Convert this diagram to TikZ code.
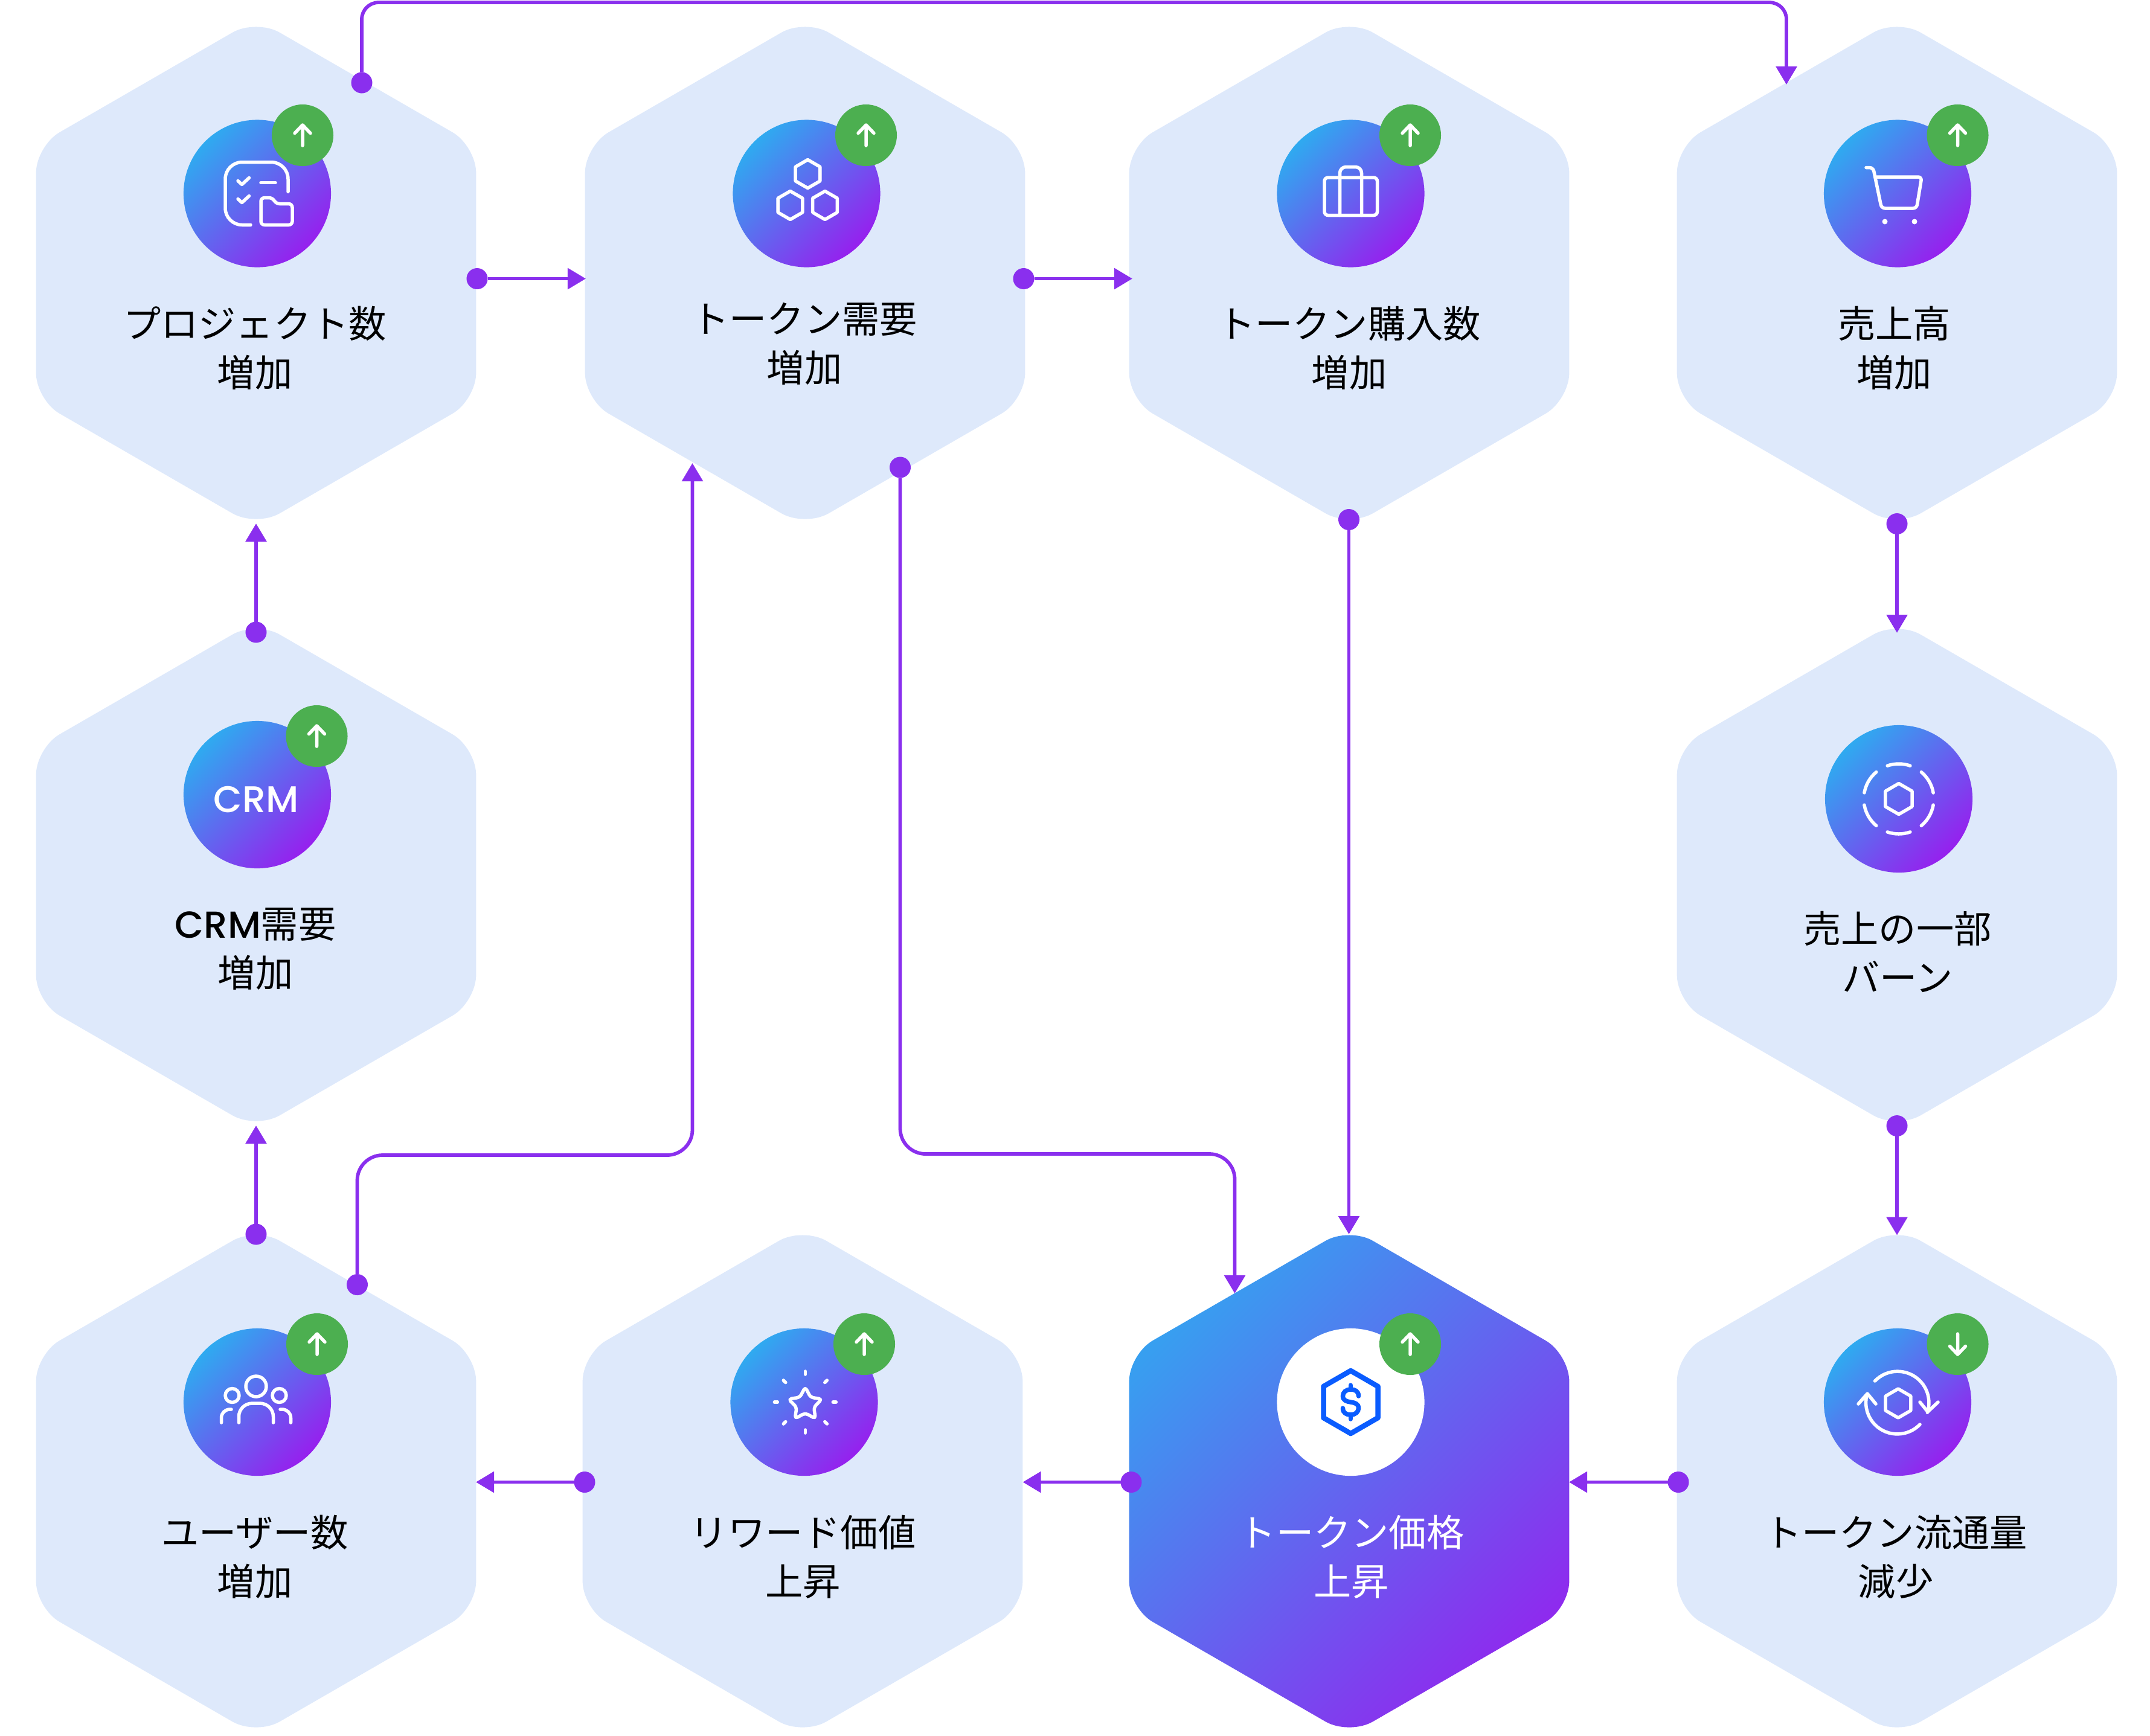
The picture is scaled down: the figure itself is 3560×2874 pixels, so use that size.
\documentclass[tikz,border=0pt]{standalone}
\usepackage{fontspec}
\setmainfont{Noto Sans CJK JP}
\newfontfamily\crmfont{Poppins Medium}
\usetikzlibrary{arrows.meta, shapes.geometric}
\definecolor{hexblue}{RGB}{222,233,251}
\definecolor{flowpurple}{RGB}{138,47,238}
\definecolor{badgegreen}{RGB}{76,175,80}
\definecolor{gradstart}{RGB}{47,170,240}
\definecolor{gradend}{RGB}{150,32,238}
\definecolor{dollarblue}{RGB}{10,92,255}
\tikzstyle{hexbox}=[regular polygon, regular polygon sides=6, shape border rotate=30, minimum size=8.41cm, inner sep=0, outer sep=0, rounded corners=0.45cm, fill=hexblue]
\tikzstyle{hexmain}=[hexbox, fill=none, top color=gradstart!92!gradend, bottom color=gradend!92!gradstart, shading angle=45]
\tikzstyle{iconball}=[circle, minimum size=2.44cm, inner sep=0, outer sep=0, top color=gradstart, bottom color=gradend, shading angle=45]
\tikzstyle{iconballwhite}=[circle, minimum size=2.44cm, inner sep=0, outer sep=0, fill=white]
\tikzstyle{badge}=[circle, minimum size=1.02cm, inner sep=0, outer sep=0, fill=badgegreen]
\tikzstyle{dot}=[circle, minimum size=0.35cm, inner sep=0, outer sep=0, fill=flowpurple]
\tikzstyle{flow}=[draw=flowpurple, line width=0.058cm, rounded corners=0.42cm, -{Triangle[length=0.3cm,width=0.34cm]}]
\tikzstyle{hexlabel}=[align=center, inner sep=0, font=\fontsize{17.7}{23}\selectfont]
\tikzstyle{iconline}=[draw=white, line width=0.055cm, line cap=round, line join=round]
\tikzstyle{iconhex}=[regular polygon, regular polygon sides=6, shape border rotate=30, inner sep=0, outer sep=0, draw=white, line width=0.055cm, line join=round]
\begin{document}
\begin{tikzpicture}[x=0.01cm, y=-0.01cm]
\useasboundingbox (0,0) rectangle (3560,2874);

\node[hexbox] (project) at (424,452) {};
\node[hexbox] (demand) at (1333,452) {};
\node[hexbox] (purchase) at (2234,452) {};
\node[hexbox] (sales) at (3141,452) {};
\node[hexbox] (crm) at (424,1449) {};
\node[hexbox] (burn) at (3141,1449) {};
\node[hexbox] (users) at (424,2453) {};
\node[hexbox] (reward) at (1329,2453) {};
\node[hexmain] (price) at (2234,2453) {};
\node[hexbox] (supply) at (3141,2453) {};

\node[iconball] (projectball) at (426,320.5) {};
\node[iconball] (demandball) at (1335.5,320.5) {};
\node[iconball] (purchaseball) at (2236.5,320.5) {};
\node[iconball] (salesball) at (3142,320.5) {};
\node[iconball] (crmball) at (426,1316) {};
\node[iconball] (burnball) at (3144,1323) {};
\node[iconball] (usersball) at (426,2322) {};
\node[iconball] (rewardball) at (1331.5,2322) {};
\node[iconballwhite] (priceball) at (2236.5,2322) {};
\node[iconball] (supplyball) at (3142,2322) {};

\node[badge] (projectbadge) at (501,224) {};
\node[badge] (demandbadge) at (1434,224) {};
\node[badge] (purchasebadge) at (2335,224) {};
\node[badge] (salesbadge) at (3241.5,224) {};
\node[badge] (crmbadge) at (524.5,1219) {};
\node[badge] (usersbadge) at (525,2226) {};
\node[badge] (rewardbadge) at (1431,2226) {};
\node[badge] (pricebadge) at (2335,2226) {};
\node[badge] (supplybadge) at (3241.5,2226) {};

\foreach \x/\y in {501/224, 1434/224, 2335/224, 3241.5/224, 524.5/1219, 525/2226, 1431/2226, 2335/2226}
{
	\draw[iconline] (\x,\y+17) -- (\x,\y-17) (\x-13,\y-3.5) -- (\x,\y-17) -- (\x+13,\y-3.5);
}
\draw[iconline] (3241.5,2209) -- (3241.5,2243) (3228.5,2229.5) -- (3241.5,2243) -- (3254.5,2229.5);

\begin{scope}[shift={(426,320.5)}]
\draw[iconline, rounded corners=0.28cm] (51,-3) -- (51,-52) -- (-53,-52) -- (-53,52) -- (-11,52);
\draw[iconline] (-32,-21) -- (-25.5,-15) -- (-13.5,-26);
\draw[iconline] (-32,9) -- (-25.5,15) -- (-13.5,4);
\draw[iconline] (6,-18) -- (30,-18);
\draw[iconline, rounded corners=0.06cm] (6,7) -- (25.5,7) -- (31,17) -- (58,17) -- (58,52) -- (6,52) -- cycle;
\end{scope}

\node[iconhex, minimum size=0.47cm] (stacktop) at (1337.5,288) {};
\node[iconhex, minimum size=0.47cm] (stackleft) at (1308.5,340) {};
\node[iconhex, minimum size=0.47cm] (stackright) at (1366,340) {};

\begin{scope}[shift={(2236.5,320.5)}]
\draw[iconline, rounded corners=0.06cm] (-43.5,-26.5) rectangle (44,36);
\draw[iconline, rounded corners=0.1cm] (-18,36) -- (-18,-44) -- (18,-44) -- (18,36);
\end{scope}

\begin{scope}[shift={(3142,320.5)}]
\draw[iconline, rounded corners=0.06cm] (-52,-43) -- (-40.5,-43) -- (-26.5,24.5) -- (31.5,24.5) -- (40,-27.5) -- (-37,-27.5);
\fill[white] (-21,46.5) circle (4.5) (28,46.5) circle (4.5);
\end{scope}

\node[text=white, inner sep=0, font=\crmfont\fontsize{17.5}{20}\selectfont] (crmmark) at (424,1324) {CRM};

\node[iconhex, minimum size=0.51cm] (burnhex) at (3144,1323) {};
\foreach \a/\b in {71/109, 10/50, -50/-10, -109/-71, 130/170, 190/230}
{
	\draw[iconline] (3144,1323) ++(-\a:58) arc[start angle=-\a, end angle=-\b, radius=58];
}

\begin{scope}[shift={(426,2322)}]
\draw[iconline] (-2,-26) circle (17);
\draw[iconline] (-41.5,-11) circle (11.5);
\draw[iconline] (36.5,-11) circle (11.5);
\draw[iconline, rounded corners=0.22cm] (-30.5,34) -- (-30.5,2) -- (26.5,2) -- (26.5,34);
\draw[iconline, rounded corners=0.14cm] (-59.5,34) -- (-59.5,12) -- (-43,12);
\draw[iconline, rounded corners=0.14cm] (55.5,34) -- (55.5,12) -- (38,12);
\end{scope}

\begin{scope}[shift={(1333.3,2322)}]
\foreach \a in {0,45,...,315}
{
	\draw[iconline] (\a:46) -- (\a:51);
}
\draw[iconline, rounded corners=0.05cm] (0,-25) -- (8.8,-8) -- (27.6,-5) -- (14.3,8.6) -- (17,27.5) -- (0,18) -- (-17,27.5) -- (-14.3,8.6) -- (-27.6,-5) -- (-8.8,-8) -- cycle;
\end{scope}

\begin{scope}[shift={(2236.5,2322)}]
\draw[draw=dollarblue, line width=0.085cm, line join=round] (0,-52) -- (45,-26) -- (45,26) -- (0,52) -- (-45,26) -- (-45,-26) -- cycle;
\draw[draw=dollarblue, line width=0.075cm, line cap=round] (13,-10) .. controls (13,-18) and (7,-21) .. (0,-21) .. controls (-8,-21) and (-13,-16) .. (-13,-10) .. controls (-13,-3) and (-7,-1) .. (0,0) .. controls (7,1) and (13,3) .. (13,10) .. controls (13,16) and (8,21) .. (0,21) .. controls (-7,21) and (-13,18) .. (-13,10);
\draw[draw=dollarblue, line width=0.075cm, line cap=round] (0,-28) -- (0,-21) (0,21) -- (0,28);
\end{scope}

\begin{scope}[shift={(3142,2323)}]
\node[iconhex, minimum size=0.48cm] (supplyhex) at (1,1) {};
\draw[iconline] (-37.5,-36) arc[start angle=-136, end angle=18, radius=52];
\draw[iconline] (37,-1) -- (50,15) -- (67,-1);
\draw[iconline] (37,36) arc[start angle=44, end angle=196, radius=52];
\draw[iconline] (-65,2) -- (-50,-15) -- (-36,2);
\end{scope}

\node[hexlabel] (projecttext) at (422,576) {プロジェクト数\\増加};
\node[hexlabel] (demandtext) at (1332,569) {トークン需要\\増加};
\node[hexlabel] (purchasetext) at (2234,576) {トークン購入数\\増加};
\node[hexlabel] (salestext) at (3136.5,576) {売上高\\増加};
\node[hexlabel] (crmtext) at (423,1572) {{\crmfont CRM}需要\\増加};
\node[hexlabel] (burntext) at (3142,1576) {売上の一部\\バーン};
\node[hexlabel] (userstext) at (422,2578) {ユーザー数\\増加};
\node[hexlabel] (rewardtext) at (1329.5,2578) {リワード価値\\上昇};
\node[hexlabel, text=white] (pricetext) at (2237.5,2578) {トークン価格\\上昇};
\node[hexlabel] (supplytext) at (3139,2578) {トークン流通量\\減少};

\node[dot] (projectup) at (599,137) {};
\node[dot] (projectright) at (790,461.5) {};
\node[dot] (demandright) at (1695,461.5) {};
\node[dot] (demanddown) at (1490.5,774) {};
\node[dot] (purchasedown) at (2233.5,860.5) {};
\node[dot] (salesdown) at (3141,867.5) {};
\node[dot] (burndown) at (3141,1864.5) {};
\node[dot] (supplyleft) at (2779,2454.5) {};
\node[dot] (priceleft) at (1873,2454.5) {};
\node[dot] (rewardleft) at (968,2454.5) {};
\node[dot] (usersup) at (424,2044) {};
\node[dot] (usersdiag) at (591.5,2127.5) {};
\node[dot] (crmup) at (424,1047) {};

\coordinate (toptrack) at (1700,4);
\coordinate (salesin) at (2958,140);
\coordinate (demandin) at (970,461.5);
\coordinate (purchasein) at (1875,461.5);
\coordinate (lowtrack) at (1700,1911);
\coordinate (pricediag) at (2044.5,2142);
\coordinate (pricetop) at (2233.5,2044);
\coordinate (burntop) at (3141,1048);
\coordinate (supplytop) at (3141,2045.5);
\coordinate (priceright) at (2598,2454.5);
\coordinate (rewardright) at (1693.5,2454.5);
\coordinate (usersright) at (788,2454.5);
\coordinate (crmbottom) at (424,1864);
\coordinate (midtrack) at (900,1913);
\coordinate (demandbelow) at (1146.5,767);
\coordinate (projectbottom) at (424,867);

\draw[flow, rounded corners=0.28cm] (projectup) |- (toptrack) -| (salesin);
\draw[flow] (projectright) -- (demandin);
\draw[flow] (demandright) -- (purchasein);
\draw[flow] (demanddown) |- (lowtrack) -| (pricediag);
\draw[flow] (purchasedown) -- (pricetop);
\draw[flow] (salesdown) -- (burntop);
\draw[flow] (burndown) -- (supplytop);
\draw[flow] (supplyleft) -- (priceright);
\draw[flow] (priceleft) -- (rewardright);
\draw[flow] (rewardleft) -- (usersright);
\draw[flow] (usersup) -- (crmbottom);
\draw[flow] (usersdiag) |- (midtrack) -| (demandbelow);
\draw[flow] (crmup) -- (projectbottom);
\end{tikzpicture}
\end{document}
